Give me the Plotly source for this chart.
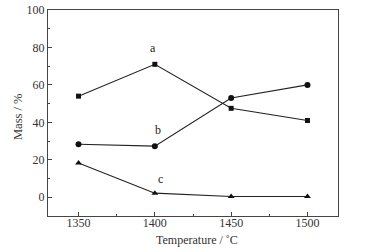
import plotly.graph_objects as go

temps = [1350, 1400, 1450, 1500]
series_a = [54, 71, 47.5, 41]
series_b = [28.3, 27.3, 53, 60]
series_c = [18.3, 2.2, 0.4, 0.4]
labels = ["a", "b", "c"]
label_x = [1399, 1402, 1404]
label_y = [79.5, 36, 9.8]
x_title = "Temperature / ˚C"
y_title = "Mass / %"

FONT = "Times New Roman, Liberation Serif, DejaVu Serif, serif"

fig = go.Figure()
for ys, sym, size in [(series_a, "square", 5), (series_b, "circle", 6), (series_c, "triangle-up", 6)]:
    fig.add_trace(go.Scatter(x=temps, y=ys, mode="lines+markers",
                             line=dict(color="#222", width=1.1),
                             marker=dict(symbol=sym, size=size, color="#111"),
                             showlegend=False))
for t, x, y in zip(labels, label_x, label_y):
    fig.add_annotation(x=x, y=y, text=t, showarrow=False,
                       font=dict(family=FONT, size=12, color="#222"))

# axis titles
fig.add_annotation(xref="paper", yref="paper", x=0.5, y=0, xshift=4, yshift=-24,
                   xanchor="center", yanchor="middle", text=x_title, showarrow=False,
                   font=dict(family=FONT, size=12, color="#333"))
fig.add_annotation(xref="paper", yref="paper", x=0, y=0.5, xshift=-30, yshift=-4,
                   xanchor="center", yanchor="middle", text=y_title, textangle=-90, showarrow=False,
                   font=dict(family=FONT, size=12.5, color="#333"))

axis_common = dict(showline=True, linecolor="#444", linewidth=1, mirror=True,
                   ticks="inside", ticklen=4, tickcolor="#444", showgrid=False,
                   zeroline=False, automargin=False,
                   tickfont=dict(family=FONT, size=12, color="#333"))
fig.update_xaxes(range=[1330, 1520], tickvals=[1350, 1400, 1450, 1500], ticklabelstandoff=-4,
                 minor=dict(tickvals=[1375, 1425, 1475], ticks="inside", ticklen=2, tickcolor="#444"),
                 **axis_common)
fig.update_yaxes(range=[-10, 100], tickvals=[0, 20, 40, 60, 80, 100],
                 minor=dict(tickvals=[-10, 10, 30, 50, 70, 90], ticks="inside", ticklen=2, tickcolor="#444"),
                 **axis_common)
fig.update_layout(width=375, height=251, margin=dict(l=48, r=37, t=10, b=35),
                  plot_bgcolor="white", paper_bgcolor="white")
fig.write_html("out.html", config={"displayModeBar": False},
               post_script="document.body.style.margin='0';document.body.style.overflow='hidden';")
